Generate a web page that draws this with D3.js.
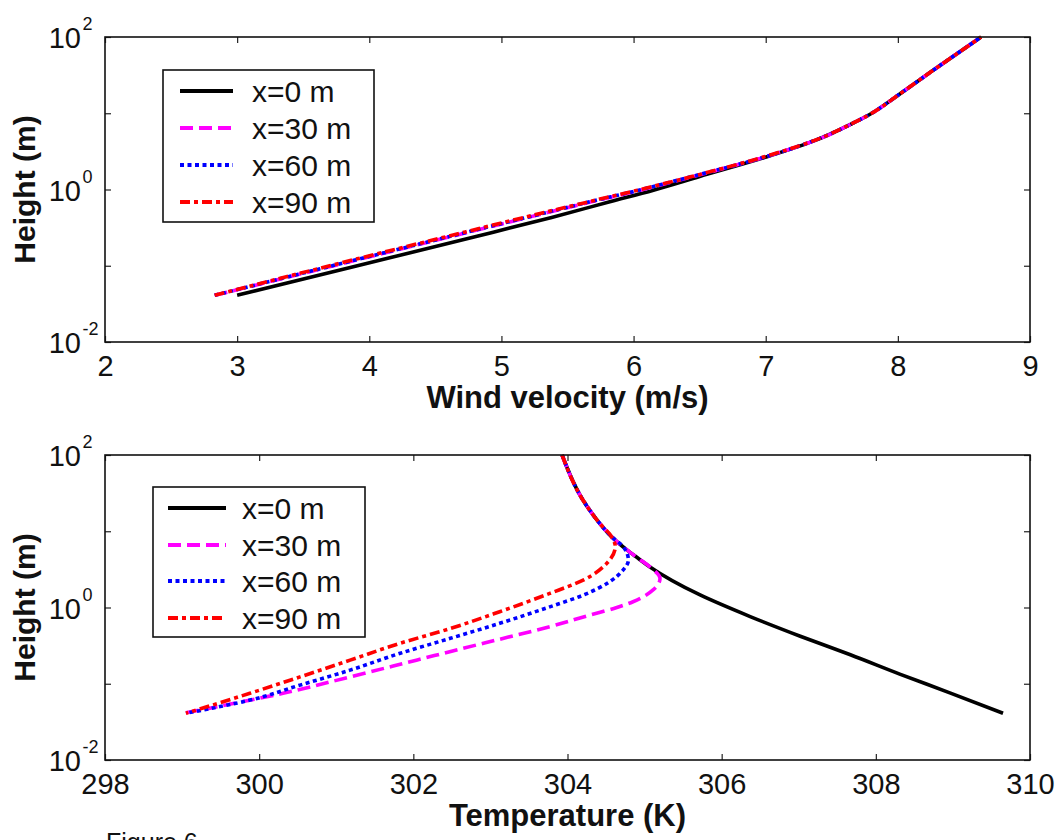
<!DOCTYPE html>
<html>
<head>
<meta charset="utf-8">
<script src="https://cdn.jsdelivr.net/npm/d3@7"></script>
<style>
  html, body { margin: 0; padding: 0; background: #fff; }
  svg { display: block; font-family: "Liberation Sans", Arial, sans-serif; }
</style>
</head>
<body>
<svg id="fig" width="1063" height="840"></svg>
<script>
// Wind velocity profiles (m/s) at each height (m)
const windHeights = [0.041, 0.1, 0.24, 0.43, 0.69, 0.98, 1.48, 2.69, 4.47, 7.4, 9.5, 18.2, 36.9, 100];
const windX0  = [3.00, 3.91, 4.80, 5.38, 5.82, 6.15, 6.50, 7.01, 7.385, 7.66, 7.78, 8.02, 8.27, 8.63];
const windX30 = [2.83, 3.73, 4.61, 5.20, 5.68, 6.05, 6.45, 7.00, 7.385, 7.66, 7.78, 8.02, 8.27, 8.63];
const windX60 = [2.83, 3.72, 4.60, 5.19, 5.67, 6.04, 6.44, 7.00, 7.38, 7.66, 7.78, 8.02, 8.27, 8.63];
const windX90 = [2.83, 3.70, 4.58, 5.17, 5.66, 6.03, 6.44, 6.99, 7.38, 7.66, 7.78, 8.02, 8.27, 8.63];

// Temperature profiles (K) with their own height samples (m)
const tempH0  = [100, 25.7, 12.6, 8.5, 5.7, 4.4, 3.4, 1.46, 0.76, 0.42, 0.24, 0.134, 0.076, 0.041];
const tempX0  = [303.93, 304.2, 304.42, 304.57, 304.77, 304.92, 305.07, 305.72, 306.37, 307.02, 307.67, 308.31, 308.96, 309.65];
const tempH30 = [100, 25.7, 12.6, 8.5, 5.7, 4.4, 3.4, 2.4, 1.7, 1.19, 1.0, 0.80, 0.56, 0.34, 0.204, 0.123, 0.075, 0.055, 0.041];
const tempX30 = [303.93, 304.2, 304.42, 304.57, 304.77, 304.92, 305.07, 305.2, 305.11, 304.85, 304.64, 304.3, 303.77, 302.91, 302.04, 301.18, 300.31, 299.66, 299.02];
const tempH60 = [100, 25.7, 12.6, 8.5, 6.3, 4.17, 3.09, 2.19, 1.46, 1.02, 0.62, 0.394, 0.251, 0.151, 0.096, 0.061, 0.041];
const tempX60 = [303.93, 304.2, 304.42, 304.57, 304.72, 304.79, 304.72, 304.55, 304.21, 303.77, 303.12, 302.48, 301.83, 301.18, 300.53, 299.88, 299.05];
const tempH90 = [100, 25.7, 12.6, 8.5, 6.3, 3.8, 2.3, 1.53, 0.88, 0.53, 0.34, 0.204, 0.123, 0.075, 0.041];
const tempX90 = [303.93, 304.2, 304.42, 304.57, 304.62, 304.51, 304.21, 303.77, 303.12, 302.48, 301.83, 301.18, 300.53, 299.88, 299.05];

const seriesNames = ["x=0 m", "x=30 m", "x=60 m", "x=90 m"];
const windTicks = [2, 3, 4, 5, 6, 7, 8, 9];
const tempTicks = [298, 300, 302, 304, 306, 308, 310];
const heightTicks = [0.01, 0.1, 1, 10, 100];
const heightLabels = {0.01: "-2", 1: "0", 100: "2"};

const styles = [
  {color: "#000000", dash: null},
  {color: "#ff00ff", dash: "13,6"},
  {color: "#0000ff", dash: "4,3.5"},
  {color: "#ff0000", dash: "10,4,4,4"}
];

const svg = d3.select("#fig");
const FONT = '"Liberation Sans", Arial, sans-serif';

function panel(opts) {
  const {top, bottom, left, right, xDomain, xTicks, xTitle, series, legend} = opts;
  const x = d3.scaleLinear().domain(xDomain).range([left, right]);
  const y = d3.scaleLog().domain([0.01, 100]).range([bottom, top]);
  const g = svg.append("g");

  // ticks on all four sides, pointing inward
  const ax = [
    d3.axisBottom(x).tickValues(xTicks).tickSizeInner(-6).tickSizeOuter(0).tickPadding(13).tickFormat(d3.format("d")),
    d3.axisTop(x).tickValues(xTicks).tickSizeInner(-6).tickSizeOuter(0).tickFormat(""),
    d3.axisLeft(y).tickValues(heightTicks).tickSizeInner(-6).tickSizeOuter(0).tickFormat(""),
    d3.axisRight(y).tickValues(heightTicks).tickSizeInner(-6).tickSizeOuter(0).tickFormat("")
  ];
  const pos = [[0, bottom], [0, top], [left, 0], [right, 0]];
  ax.forEach((a, i) => {
    const ag = g.append("g").attr("transform", `translate(${pos[i][0]},${pos[i][1]})`).call(a);
    ag.select(".domain").remove();
    ag.selectAll(".tick line").attr("stroke", "#222").attr("stroke-width", 1.2);
    ag.selectAll("text").attr("font-size", 29).attr("font-family", FONT).attr("fill", "#111");
  });

  // log labels 10^n
  heightTicks.filter(v => heightLabels[v] !== undefined).forEach(v => {
    const yy = y(v);
    g.append("text").attr("x", left - 24).attr("y", yy + 11)
      .attr("text-anchor", "end").attr("font-size", 29).attr("fill", "#111").text("10");
    g.append("text").attr("x", left - 22.5).attr("y", yy - 7)
      .attr("text-anchor", "start").attr("font-size", 18).attr("fill", "#111").text(heightLabels[v]);
  });

  // curves
  const line = d3.line().x(d => x(d[0])).y(d => y(d[1])).curve(d3.curveMonotoneY);
  series.forEach((s, i) => {
    const pts = s.xs.map((v, k) => [v, s.hs[k]]);
    g.append("path").attr("d", line(pts)).attr("fill", "none")
      .attr("stroke", styles[i].color).attr("stroke-width", 3.6)
      .attr("stroke-dasharray", styles[i].dash)
      .attr("stroke-linejoin", "round");
  });

  // frame
  g.append("rect").attr("x", left).attr("y", top).attr("width", right - left).attr("height", bottom - top)
    .attr("fill", "none").attr("stroke", "#111").attr("stroke-width", 1.6);

  // axis titles
  g.append("text").attr("x", (left + right) / 2).attr("y", bottom + 66)
    .attr("text-anchor", "middle").attr("font-size", 31).attr("font-weight", "bold").attr("fill", "#111").text(xTitle);
  g.append("text").attr("transform", `translate(35,${(top + bottom) / 2}) rotate(-90)`)
    .attr("text-anchor", "middle").attr("font-size", 30).attr("font-weight", "bold").attr("fill", "#111").text("Height (m)");

  // legend
  const L = legend;
  g.append("rect").attr("x", L.x0).attr("y", L.y0).attr("width", L.x1 - L.x0).attr("height", L.y1 - L.y0)
    .attr("fill", "#fff").attr("stroke", "#111").attr("stroke-width", 1.6);
  seriesNames.forEach((name, i) => {
    const ry = L.rows[i];
    g.append("line").attr("x1", L.s0).attr("x2", L.s1).attr("y1", ry).attr("y2", ry)
      .attr("stroke", styles[i].color).attr("stroke-width", 4.2)
      .attr("stroke-dasharray", styles[i].dash);
    g.append("text").attr("x", L.tx).attr("y", ry + 10.5).attr("font-size", 30).attr("fill", "#111").text(name);
  });
}

panel({
  top: 37, bottom: 342, left: 105, right: 1030,
  xDomain: [2, 9], xTicks: windTicks, xTitle: "Wind velocity (m/s)",
  series: [
    {xs: windX0, hs: windHeights},
    {xs: windX30, hs: windHeights},
    {xs: windX60, hs: windHeights},
    {xs: windX90, hs: windHeights}
  ],
  legend: {x0: 163, y0: 70, x1: 374, y1: 222, rows: [91, 128, 165, 202], s0: 180, s1: 233, tx: 252}
});

panel({
  top: 455, bottom: 760, left: 105, right: 1030,
  xDomain: [298, 310], xTicks: tempTicks, xTitle: "Temperature (K)",
  series: [
    {xs: tempX0, hs: tempH0},
    {xs: tempX30, hs: tempH30},
    {xs: tempX60, hs: tempH60},
    {xs: tempX90, hs: tempH90}
  ],
  legend: {x0: 153, y0: 487, x1: 365, y1: 637, rows: [508, 545, 581, 618], s0: 168, s1: 226, tx: 242}
});

// figure caption at the foot of the page
svg.append("text").attr("x", 106).attr("y", 851).attr("font-size", 25).attr("fill", "#111").text("Figure 6");
</script>
</body>
</html>
